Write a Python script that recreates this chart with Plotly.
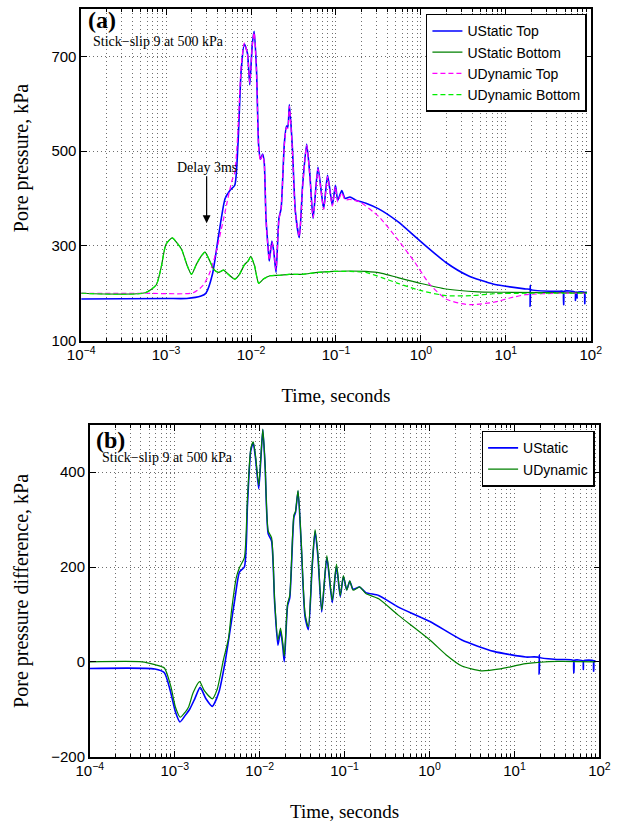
import plotly.graph_objects as go

# ---------------- data (time in seconds, pressure in kPa) ----------------
T_STATIC_TOP = [1e-4, 1.0e-3, 1.75e-3, 2.58e-3, 2.94e-3, 3.51e-3, 4.16e-3, 4.95e-3, 5.64e-3, 6.43e-3,
                7.00e-3, 7.66e-3, 8.34e-3, 9.08e-3, 9.66e-3, 1.035e-2, 1.089e-2, 1.16e-2, 1.23e-2, 1.29e-2,
                1.37e-2, 1.43e-2, 1.50e-2, 1.60e-2, 1.64e-2, 1.76e-2, 1.85e-2, 1.97e-2, 2.13e-2, 2.26e-2,
                2.47e-2, 2.62e-2, 2.71e-2, 2.83e-2, 3.06e-2, 3.33e-2, 3.70e-2, 4.05e-2, 4.52e-2, 4.93e-2,
                5.38e-2, 6.14e-2, 7.16e-2, 7.96e-2, 9.06e-2, 9.86e-2, 0.105, 0.117, 0.128, 0.146,
                0.174, 0.225, 0.318, 0.536, 0.982, 1.97, 3.61, 7.23, 17.2, 19.2,
                19.3, 19.4, 19.6, 40.9, 47.5, 48.0, 48.5, 65.5, 66.0, 66.5,
                68.5, 69.0, 69.5, 84.5, 85.0, 85.5, 90.0]
P_STATIC_TOP = [188, 189, 189, 194, 200, 240, 323, 400, 417, 428,
                511, 671, 726, 706, 640, 726, 753, 671, 511, 483,
                494, 476, 358, 289, 268, 310, 289, 244, 358, 379,
                518, 553, 550, 598, 511, 372, 317, 428, 515, 449,
                358, 466, 379, 449, 386, 428, 396, 417, 400, 403,
                396, 390, 378, 351, 310, 265, 237, 219, 209, 208,
                172, 217, 208, 204, 204, 176, 204, 202, 185, 202,
                202, 190, 202, 202, 178, 202, 202]

T_STATIC_BOT = [1e-4, 5.68e-4, 7.67e-4, 8.73e-4, 9.95e-4, 1.18e-3, 1.35e-3, 1.53e-3, 1.75e-3, 1.99e-3,
                2.27e-3, 2.58e-3, 2.87e-3, 3.21e-3, 3.66e-3, 4.16e-3, 4.74e-3, 5.40e-3, 6.43e-3, 7.31e-3,
                8.34e-3, 9.31e-3, 9.93e-3, 1.10e-2, 1.23e-2, 1.40e-2, 1.67e-2, 2.17e-2, 2.81e-2, 3.97e-2,
                6.14e-2, 9.44e-2, 0.146, 0.225, 0.347, 0.536, 0.982, 1.97, 4.68, 11.1, 90.0]
P_STATIC_BOT = [200, 201, 218, 254, 303, 317, 306, 292, 261, 240,
                261, 278, 287, 271, 250, 244, 249, 240, 230, 240,
                260, 269, 278, 258, 221, 230, 237, 238, 240, 240,
                244, 246, 247, 246, 242, 233, 221, 209, 203, 202, 201]

T_DYN_TOP = [1e-4, 5.7e-4, 2.08e-3, 2.70e-3, 3.21e-3, 3.82e-3, 4.95e-3, 5.90e-3, 6.43e-3, 7.00e-3,
             7.66e-3, 8.34e-3, 9.08e-3, 9.66e-3, 1.035e-2, 1.089e-2, 1.16e-2, 1.23e-2, 1.29e-2, 1.37e-2,
             1.43e-2, 1.50e-2, 1.60e-2, 1.64e-2, 1.76e-2, 1.85e-2, 1.97e-2, 2.13e-2, 2.26e-2, 2.47e-2,
             2.62e-2, 2.71e-2, 2.83e-2, 3.06e-2, 3.33e-2, 3.70e-2, 4.05e-2, 4.52e-2, 4.93e-2, 5.38e-2,
             6.14e-2, 7.16e-2, 7.96e-2, 9.06e-2, 9.86e-2, 0.105, 0.117, 0.128, 0.146, 0.189,
             0.318, 0.536, 0.828, 1.27, 1.97, 3.03, 3.94, 7.23, 11.1, 17.2, 40.9, 90.0]
P_DYN_TOP = [200, 200, 201, 216, 240, 282, 372, 435, 455, 540,
             680, 728, 705, 645, 724, 750, 668, 505, 480, 492,
             474, 355, 285, 270, 308, 290, 250, 355, 380, 515,
             550, 548, 595, 505, 368, 320, 425, 512, 445, 360,
             462, 377, 446, 384, 425, 393, 412, 397, 398, 393,
             362, 313, 268, 219, 188, 178, 176, 181, 190, 197, 200, 200]

T_DYN_BOT = [1e-4, 5.68e-4, 7.67e-4, 8.73e-4, 9.95e-4, 1.18e-3, 1.35e-3, 1.53e-3, 1.75e-3, 1.99e-3,
             2.27e-3, 2.58e-3, 2.87e-3, 3.21e-3, 3.66e-3, 4.16e-3, 4.74e-3, 5.40e-3, 6.43e-3, 7.31e-3,
             8.34e-3, 9.31e-3, 9.93e-3, 1.10e-2, 1.23e-2, 1.40e-2, 1.67e-2, 2.17e-2, 2.81e-2, 3.97e-2,
             6.14e-2, 9.44e-2, 0.146, 0.225, 0.347, 0.536, 0.982, 1.97, 3.94, 7.23, 17.2, 90.0]
P_DYN_BOT = [200, 201, 218, 254, 303, 317, 306, 292, 261, 240,
             261, 278, 287, 271, 250, 244, 249, 240, 230, 240,
             260, 269, 278, 258, 221, 230, 237, 238, 240, 240,
             244, 246, 246, 244, 233, 221, 206, 195, 195, 199, 200, 200]

# pore pressure difference (top - bottom)
T_DIFF_DYN = [1e-4, 4.11e-4, 5.82e-4, 7.55e-4, 8.97e-4, 1.02e-3, 1.16e-3, 1.33e-3, 1.45e-3, 1.65e-3,
              1.96e-3, 2.23e-3, 2.77e-3, 3.16e-3, 3.75e-3, 4.30e-3, 4.67e-3, 5.31e-3, 5.79e-3, 6.60e-3,
              7.18e-3, 7.85e-3, 8.39e-3, 8.93e-3, 9.75e-3, 1.035e-2, 1.09e-2, 1.16e-2, 1.26e-2, 1.38e-2,
              1.50e-2, 1.64e-2, 1.76e-2, 1.87e-2, 1.95e-2, 2.13e-2, 2.26e-2, 2.53e-2, 2.64e-2, 2.83e-2,
              3.08e-2, 3.42e-2, 3.74e-2, 4.15e-2, 4.49e-2, 4.85e-2, 5.38e-2, 6.18e-2, 7.16e-2, 8.02e-2,
              8.89e-2, 9.68e-2, 0.106, 0.115, 0.126, 0.150, 0.178, 0.252, 0.424, 1.01,
              1.56, 2.40, 4.05, 6.80, 13.6, 32.4, 90.0]
D_DYN = [0, 0, -6, -13, -51, -96, -117, -106, -96, -65,
         -42, -61, -78, -58, 5, 50, 109, 178, 199, 220,
         345, 449, 464, 435, 373, 435, 491, 414, 276, 262,
         130, 46, 71, 40, 12, 123, 140, 310, 317, 362,
         255, 102, 74, 206, 279, 227, 109, 224, 130, 206,
         140, 182, 151, 171, 151, 158, 144, 133, 99, 46,
         15, -9, -19, -15, -4, 1, 0]

T_DIFF_STATIC = [1e-4, 5.82e-4, 7.55e-4, 8.97e-4, 1.02e-3, 1.15e-3, 1.33e-3, 1.51e-3, 1.72e-3, 1.99e-3,
                 2.33e-3, 2.77e-3, 3.30e-3, 3.92e-3, 5.08e-3, 5.79e-3, 6.60e-3,
                 7.18e-3, 7.85e-3, 8.39e-3, 8.93e-3, 9.75e-3, 1.035e-2, 1.09e-2, 1.16e-2, 1.26e-2, 1.38e-2,
                 1.50e-2, 1.64e-2, 1.76e-2, 1.87e-2, 1.95e-2, 2.13e-2, 2.26e-2, 2.53e-2, 2.64e-2, 2.83e-2,
                 3.08e-2, 3.42e-2, 3.74e-2, 4.15e-2, 4.49e-2, 4.85e-2, 5.38e-2, 6.18e-2, 7.16e-2, 8.02e-2,
                 8.89e-2, 9.68e-2, 0.106, 0.115, 0.126, 0.150, 0.178, 0.252, 0.424, 1.01,
                 2.40, 5.71, 13.6, 19.3, 19.5, 19.6, 19.8, 32.4, 49.5, 50.0,
                 50.5, 64.0, 64.7, 65.5, 85.0, 85.5, 86.0, 90.0]
D_STATIC = [-14, -15, -23, -65, -106, -127, -113, -99, -78, -54,
            -78, -94, -65, 0, 130, 190, 200,
            330, 445, 462, 430, 365, 432, 490, 410, 270, 255,
            125, 35, 65, 32, 0, 118, 135, 305, 315, 360,
            250, 95, 68, 200, 275, 222, 105, 220, 125, 202,
            138, 180, 152, 170, 153, 158, 146, 140, 116, 85,
            46, 22, 10, 9, -26, 15, 9, 5, 3, -23,
            3, 2, -16, 2, 2, -20, 2, 1.5]

X_TICKVALS = [1e-4, 1e-3, 1e-2, 1e-1, 1e0, 1e1, 1e2]
X_TICKTEXT = ["10<sup>\u22124</sup>", "10<sup>\u22123</sup>", "10<sup>\u22122</sup>", "10<sup>\u22121</sup>",
              "10<sup>0</sup>", "10<sup>1</sup>", "10<sup>2</sup>"]
Y1_TICKS = [100, 300, 500, 700]
Y2_TICKS = [-200, 0, 200, 400]

# ---------------- layout helpers ----------------
W, H = 620, 826
def fx(p):
    return p / W
def fy(p):
    return 1 - p / H

SANS = "Arial"
SERIF = "Liberation Serif"
BLUE, GREEN, MAGENTA, LIME = "#0000ff", "#008000", "#ff00ff", "#00ee00"
GRIDC = "#6f6f6f"
GDASH = "1px,3px"
minor_vals = [m * 10.0 ** e for e in range(-4, 2) for m in range(2, 10)]

fig = go.Figure()
def line(color, width, dash="solid"):
    return dict(color=color, width=width, dash=dash, shape="spline", smoothing=0.6)

fig.add_trace(go.Scatter(x=T_STATIC_TOP, y=P_STATIC_TOP, mode="lines", name="UStatic Top",
                         line=line(BLUE, 1.6), xaxis="x", yaxis="y", legend="legend"))
fig.add_trace(go.Scatter(x=T_STATIC_BOT, y=P_STATIC_BOT, mode="lines", name="UStatic Bottom",
                         line=line(GREEN, 1.2), xaxis="x", yaxis="y", legend="legend"))
fig.add_trace(go.Scatter(x=T_DYN_TOP, y=P_DYN_TOP, mode="lines", name="UDynamic Top",
                         line=line(MAGENTA, 1.2, "5px,3px"), xaxis="x", yaxis="y", legend="legend"))
fig.add_trace(go.Scatter(x=T_DYN_BOT, y=P_DYN_BOT, mode="lines", name="UDynamic Bottom",
                         line=line(LIME, 1.2, "5px,3px"), xaxis="x", yaxis="y", legend="legend"))
fig.add_trace(go.Scatter(x=T_DIFF_STATIC, y=D_STATIC, mode="lines", name="UStatic",
                         line=line(BLUE, 1.6), xaxis="x2", yaxis="y2", legend="legend2"))
fig.add_trace(go.Scatter(x=T_DIFF_DYN, y=D_DYN, mode="lines", name="UDynamic",
                         line=line(GREEN, 1.2), xaxis="x2", yaxis="y2", legend="legend2"))


def xaxis_cfg(domain, anchor):
    return dict(type="log", range=[-4, 2], domain=domain, anchor=anchor,
                tickvals=X_TICKVALS, ticktext=X_TICKTEXT,
                ticks="inside", ticklen=6, tickwidth=1, tickcolor="black",
                showline=True, linecolor="black", linewidth=1.5, mirror="allticks",
                showgrid=True, gridcolor=GRIDC, gridwidth=1, griddash=GDASH, zeroline=False,
                minor=dict(tickvals=minor_vals, ticks="inside", ticklen=3, tickcolor="black",
                           showgrid=True, gridcolor=GRIDC, gridwidth=1, griddash=GDASH),
                tickfont=dict(family=SANS, size=15, color="black"),
                title=dict(text="Time, seconds", font=dict(family=SERIF, size=19, color="black"), standoff=26))


def yaxis_cfg(domain, anchor, rng, ticks):
    return dict(range=rng, domain=domain, anchor=anchor, tickvals=ticks,
                ticks="inside", ticklen=6, tickwidth=1, tickcolor="black",
                showline=True, linecolor="black", linewidth=1.5, mirror="allticks",
                showgrid=True, gridcolor=GRIDC, gridwidth=1, griddash=GDASH, zeroline=False,
                tickfont=dict(family=SANS, size=15, color="black"))


legend_common = dict(font=dict(family=SANS, size=14, color="black"), bgcolor="white",
                     bordercolor="black", borderwidth=1.5, xanchor="right", yanchor="top",
                     itemwidth=30, tracegroupgap=0)

fig.update_layout(
    width=W, height=H, margin=dict(l=0, r=0, t=0, b=0),
    paper_bgcolor="white", plot_bgcolor="white", showlegend=True,
    xaxis=xaxis_cfg([fx(70), fx(601)], "y"),
    yaxis=yaxis_cfg([fy(344), fy(9)], "x", [100, 800], Y1_TICKS),
    xaxis2=xaxis_cfg([fx(79), fx(610)], "y2"),
    yaxis2=yaxis_cfg([fy(764), fy(429)], "x2", [-200, 500], Y2_TICKS),
    legend=dict(x=fx(597), y=fy(14), **legend_common),
    legend2=dict(x=fx(605), y=fy(435), **legend_common),
)

ann_font = dict(family=SERIF, size=14, color="black")
title_font = dict(family=SERIF, size=20, color="black")
annotations = [
    dict(text="<b>(a)</b>", x=fx(92), y=fy(20), xref="paper", yref="paper", showarrow=False,
         xanchor="center", yanchor="middle", font=dict(family=SERIF, size=24, color="black")),
    dict(text="Stick\u2212slip 9 at 500 kPa", x=fx(151), y=fy(42), xref="paper", yref="paper",
         showarrow=False, xanchor="center", yanchor="middle", font=ann_font),
    dict(text="<b>(b)</b>", x=fx(101), y=fy(444), xref="paper", yref="paper", showarrow=False,
         xanchor="center", yanchor="middle", font=dict(family=SERIF, size=24, color="black")),
    dict(text="Stick\u2212slip 9 at 500 kPa", x=fx(160), y=fy(462), xref="paper", yref="paper",
         showarrow=False, xanchor="center", yanchor="middle", font=ann_font),
    dict(text="Delay 3ms", x=-2.5229, y=348, xref="x", yref="y", showarrow=True,
         ax=0, ay=-56, axref="pixel", ayref="pixel", arrowhead=2, arrowsize=1.3, arrowwidth=1.2,
         arrowcolor="black", font=ann_font, standoff=0),
    dict(text="Pore pressure, kPa", x=fx(8), y=fy(160), xref="paper", yref="paper", showarrow=False,
         textangle=-90, xanchor="center", yanchor="middle", font=title_font),
    dict(text="Pore pressure difference, kPa", x=fx(8), y=fy(597), xref="paper", yref="paper",
         showarrow=False, textangle=-90, xanchor="center", yanchor="middle", font=title_font),
]
fig.update_layout(annotations=annotations)

fig.write_html("out.html")
